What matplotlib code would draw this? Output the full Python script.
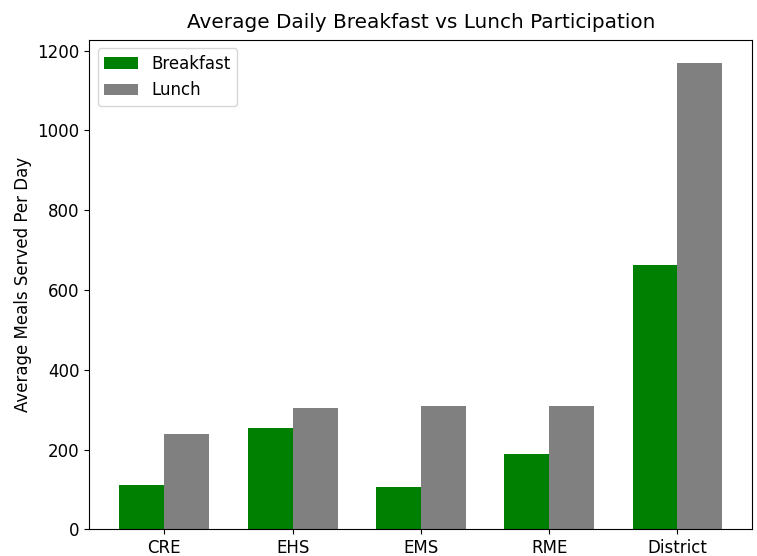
import matplotlib
matplotlib.use("Agg")
import matplotlib.pyplot as plt
import numpy as np

# school sites and average meals per day
schools = ['CRE', 'EHS', 'EMS', 'RME', 'District']
breakfast = [110, 255, 106, 189, 663]
lunch = [238, 304, 308, 310, 1168]

plt.rcParams['font.size'] = 12

fig = plt.figure(figsize=(7.57, 5.56), dpi=100)
ax = fig.add_axes([0.118, 0.048, 0.876, 0.880])

x = np.arange(len(schools))
width = 0.35

ax.bar(x - width/2, breakfast, width, color='green', label='Breakfast')
ax.bar(x + width/2, lunch, width, color='grey', label='Lunch')

ax.set_xticks(x)
ax.set_xticklabels(schools)
ax.set_ylabel('Average Meals Served Per Day')
ax.set_title('Average Daily Breakfast vs Lunch Participation', fontsize=14.4, pad=9)
ax.legend(loc='upper left')

fig.savefig('out.png', dpi=100)
